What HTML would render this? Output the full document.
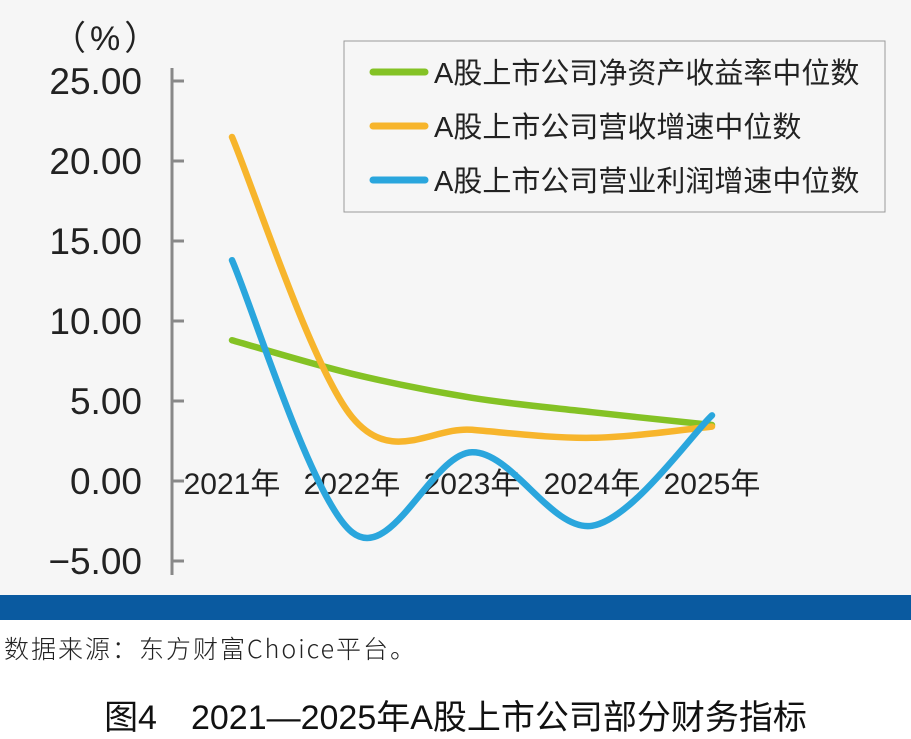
<!DOCTYPE html>
<html><head><meta charset="utf-8"><style>
body{margin:0;width:911px;height:738px;overflow:hidden;background:#fff;font-family:"Liberation Sans","Noto Sans CJK SC",sans-serif}
#chart{position:absolute;left:0;top:0;width:911px;height:595px;background:#f6f6f6}
#band{position:absolute;left:0;top:595px;width:911px;height:25px;background:#0a5aa0}
#src{position:absolute;left:4px;top:630px;font-size:25px;color:#222;font-family:"Noto Sans CJK SC",monospace;font-weight:300;letter-spacing:2px}
#title{position:absolute;left:0;width:911px;top:690px;text-align:center;font-size:34px;color:#111}
</style></head><body>
<div id="chart">
<svg width="911" height="595">
<g id="axis"></g><g id="lines"></g>
<text x="52" y="50" font-size="34" fill="#222" letter-spacing="4">（%）</text>
<rect x="344" y="41" width="541" height="171" fill="#f6f6f6" stroke="#999"/>
<g id="legend"></g>
</svg></div>
<div id="band"></div>
<div id="src">数据来源：东方财富Choice平台。</div>
<div id="title">图4　2021—2025年A股上市公司部分财务指标</div>
<script>
const categories=["2021年","2022年","2023年","2024年","2025年"];
const yTicks=[25,20,15,10,5,0,-5];
const yTickLabels=["25.00","20.00","15.00","10.00","5.00","0.00","−5.00"];
const seriesNames=["A股上市公司净资产收益率中位数","A股上市公司营收增速中位数","A股上市公司营业利润增速中位数"];
const roe=[8.8,6.7,5.2,4.3,3.5];
const revenue=[21.5,4.0,3.2,2.7,3.4];
const profit=[13.8,-3.2,1.8,-2.8,4.1];
const colors=["#84c225","#f7b52c","#2aa6dd"];
const NS="http://www.w3.org/2000/svg";
const x=i=>232+i*120, y=v=>481-v*16;
const ax=document.getElementById('axis');
function mk(t,a,p){const e=document.createElementNS(NS,t);for(const k in a)e.setAttribute(k,a[k]);p.appendChild(e);return e;}
const al=mk('line',{x1:172,y1:68,x2:172,y2:575,stroke:'#888','stroke-width':3},ax);


yTicks.forEach((v,i)=>{
 const t=mk('line',{x1:172,y1:y(v),x2:184,y2:y(v),stroke:'#888','stroke-width':3},ax);
 
 
 const l=mk('text',{x:142,y:y(v)+13,'font-size':37,fill:'#222','text-anchor':'end'},ax);l.textContent=yTickLabels[i];
 
 
});
categories.forEach((c,i)=>{
 const l=mk('text',{x:x(i),y:y(0)+13,'font-size':30,fill:'#222','text-anchor':'middle'},ax);l.textContent=c;
 
 
});
function path(d){const p=d.map((v,i)=>[x(i),y(v)]);let s=`M${p[0][0]},${p[0][1]}`;
 for(let i=0;i<p.length-1;i++){const p0=p[i-1]||p[i],p1=p[i],p2=p[i+1],p3=p[i+2]||p2;
 s+=` C${p1[0]+(p2[0]-p0[0])/6},${p1[1]+(p2[1]-p0[1])/6} ${p2[0]-(p3[0]-p1[0])/6},${p2[1]-(p3[1]-p1[1])/6} ${p2[0]},${p2[1]}`;}return s;}
const lg=document.getElementById('lines');
[roe,revenue,profit].forEach((d,i)=>{
 const p=mk('path',{d:path(d),fill:'none',stroke:colors[i],'stroke-width':6.5,'stroke-linecap':'round'},lg);
 
 
});
const leg=document.getElementById('legend');
seriesNames.forEach((n,i)=>{
 const yy=72+i*54;
 const m=mk('line',{x1:373,y1:yy,x2:425,y2:yy,stroke:colors[i],'stroke-width':7,'stroke-linecap':'round'},leg);
 
 
 const t=mk('text',{x:434,y:yy+11,'font-size':29,fill:'#222'},leg);t.textContent=n;
 
 
});
</script>
</body></html>
